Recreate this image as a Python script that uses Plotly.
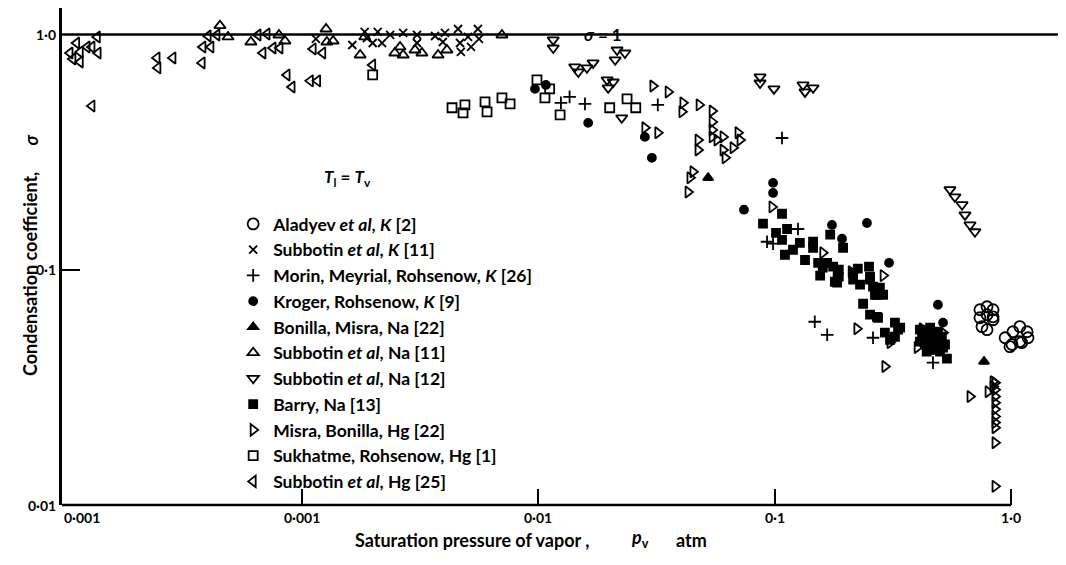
import math
import plotly.graph_objects as go

# ---------------- data (pressure p_v in atm, condensation coefficient sigma) -------------
aladyev_x = [0.739, 0.792, 0.840, 0.739, 0.792, 0.840, 0.754, 0.792, 0.840,
             0.944, 1.019, 1.09, 1.17, 1.01, 1.09, 1.18, 0.99, 1.11]
aladyev_y = [0.0676, 0.0696, 0.0676, 0.0625, 0.0644, 0.0631, 0.0573, 0.0556, 0.0613,
             0.0514, 0.0545, 0.0573, 0.0545, 0.0481, 0.0495, 0.0514, 0.0471, 0.0490]

subK_x = [1.15e-3, 1.64e-3, 1.85e-3, 2.10e-3, 1.89e-3, 2.0e-3, 2.19e-3, 2.37e-3, 2.69e-3,
          3.08e-3, 3.67e-3, 4.04e-3, 4.59e-3, 5.06e-3, 5.57e-3, 5.63e-3, 4.72e-3, 5.21e-3,
          3.08e-3, 3.96e-3, 4.68e-3]
subK_y = [0.957, 0.902, 1.025, 1.025, 0.966, 0.920, 0.920, 0.995, 1.015,
          0.995, 0.985, 1.015, 1.055, 0.976, 1.055, 0.957, 0.843, 0.885,
          0.920, 0.929, 0.920]

morin_x = [1.25e-2, 1.36e-2, 1.58e-2, 3.21e-2, 0.1076, 0.1257, 0.093, 0.0986,
           0.148, 0.167, 0.261, 0.468]
morin_y = [0.512, 0.543, 0.507, 0.502, 0.363, 0.149, 0.1315, 0.129,
           0.0601, 0.0529, 0.0514, 0.0403]

kroger_x = [9.71e-3, 1.08e-2, 1.63e-2, 2.83e-2, 3.03e-2, 0.0986, 0.0986, 0.0743,
            0.175, 0.246, 0.193, 0.305, 0.491, 0.516]
kroger_y = [0.587, 0.610, 0.421, 0.367, 0.299, 0.234, 0.212, 0.180,
            0.155, 0.158, 0.1355, 0.107, 0.0710, 0.0596]

bonilla_x = [0.0524, 0.769]
bonilla_y = [0.246, 0.0407]

subNa11_x = [4.52e-4, 4.89e-4, 6.11e-4, 8.03e-4, 8.51e-4, 1.27e-3, 1.28e-3, 1.36e-3,
             1.77e-3, 1.85e-3, 2.61e-3, 2.69e-3, 2.48e-3, 3.23e-3, 3.02e-3, 3.78e-3,
             4.12e-3, 7.04e-3]
subNa11_y = [1.09, 0.976, 0.929, 0.995, 0.938, 1.055, 0.929, 0.938,
             0.818, 0.976, 0.885, 0.818, 0.834, 0.834, 0.859, 0.818,
             0.859, 0.995]

subNa12_x = [1.16e-2, 1.16e-2, 1.43e-2, 1.61e-2, 1.71e-2, 1.48e-2, 2.16e-2, 2.33e-2,
             2.12e-2, 1.96e-2, 1.98e-2, 2.08e-2, 2.26e-2, 0.0869, 0.0869, 0.0995,
             0.132, 0.1346, 0.1456, 0.552, 0.579, 0.621, 0.639, 0.671, 0.704]
subNa12_y = [0.948, 0.876, 0.728, 0.721, 0.757, 0.693, 0.859, 0.834,
             0.780, 0.641, 0.593, 0.628, 0.442, 0.660, 0.622, 0.587,
             0.610, 0.570, 0.593, 0.219, 0.204, 0.189, 0.171, 0.155, 0.145]

barry_x = [0.1076, 0.0894, 0.113, 0.1015, 0.1076, 0.128, 0.1197, 0.1107, 0.1456, 0.1456,
           0.172, 0.195, 0.1346, 0.153, 0.160, 0.156, 0.177, 0.187, 0.187, 0.184,
           0.225, 0.251, 0.215, 0.230, 0.2535, 0.261, 0.279, 0.288, 0.271, 0.237,
           0.2535, 0.271, 0.323, 0.333, 0.293, 0.323, 0.308, 0.167, 0.185, 0.180,
           0.215, 0.2535, 0.266, 0.274, 0.340,
           0.412, 0.433, 0.455, 0.477, 0.501, 0.421, 0.446, 0.468, 0.491, 0.516,
           0.433, 0.455, 0.477, 0.501, 0.526, 0.455, 0.491, 0.51, 0.412, 0.44, 0.536]
barry_y = [0.173, 0.157, 0.149, 0.1435, 0.134, 0.130, 0.1216, 0.1158, 0.1315, 0.124,
           0.141, 0.124, 0.110, 0.107, 0.102, 0.0944, 0.103, 0.100, 0.0934, 0.0881,
           0.101, 0.103, 0.0907, 0.0864, 0.0907, 0.0847, 0.0839, 0.0783, 0.0783, 0.0717,
           0.0644, 0.0631, 0.0596, 0.0556, 0.0540, 0.0519, 0.0504, 0.107, 0.097, 0.0889,
           0.097, 0.0934, 0.0783, 0.0625, 0.0567,
           0.0556, 0.0540, 0.0529, 0.0514, 0.0504, 0.0514, 0.0504, 0.0490, 0.0481, 0.0467,
           0.0481, 0.0467, 0.0457, 0.0449, 0.0481, 0.0567, 0.0545, 0.0519, 0.0495, 0.0449,
           0.0419]

misra_x = [3.06e-2, 3.55e-2, 4.10e-2, 4.06e-2, 4.80e-2, 5.45e-2, 2.83e-2, 3.21e-2,
           5.45e-2, 5.45e-2, 5.45e-2, 6.06e-2, 5.71e-2, 4.75e-2, 4.75e-2, 7.01e-2,
           7.15e-2, 6.68e-2, 6.06e-2, 6.18e-2, 4.52e-2, 4.39e-2, 4.31e-2, 9.76e-2,
           0.160, 0.288, 0.211, 0.223, 0.308, 0.401, 0.293, 0.421, 0.516,
           0.671, 0.840, 0.840, 0.800, 0.856, 0.856, 0.856, 0.856, 0.856, 0.856,
           0.856, 0.856, 0.856, 0.856]
misra_y = [0.604, 0.570, 0.512, 0.469, 0.502, 0.473, 0.401, 0.382,
           0.425, 0.393, 0.367, 0.367, 0.356, 0.356, 0.323, 0.382,
           0.356, 0.330, 0.323, 0.299, 0.261, 0.246, 0.214, 0.185,
           0.118, 0.0944, 0.098, 0.0561, 0.0490, 0.0467, 0.0388, 0.0561, 0.0540,
           0.0289, 0.0334, 0.0319, 0.0303, 0.0309, 0.0289, 0.0272, 0.0255, 0.0238,
           0.0224, 0.0213, 0.0184, 0.0120, 0.0331]

sukh_x = [2.0e-3, 9.9e-3, 1.12e-2, 1.07e-2, 1.24e-2, 4.91e-3, 4.82e-3, 4.33e-3,
          5.97e-3, 6.09e-3, 7.04e-3, 7.62e-3, 2.01e-2, 2.38e-2, 2.59e-2]
sukh_y = [0.673, 0.641, 0.587, 0.538, 0.455, 0.502, 0.464, 0.488,
          0.517, 0.469, 0.538, 0.507, 0.488, 0.532, 0.488]

subHg_x = [1.37e-4, 1.12e-4, 1.24e-4, 1.30e-4, 1.16e-4, 1.05e-4, 1.38e-4, 1.08e-4,
           1.16e-4, 1.30e-4, 2.45e-4, 2.47e-4, 2.86e-4, 3.8e-4, 4.03e-4, 4.39e-4,
           3.83e-4, 4.14e-4, 6.55e-4, 7.15e-4, 6.87e-4, 7.58e-4, 8.11e-4, 8.69e-4,
           9.12e-4, 1.09e-3, 1.17e-3, 1.12e-3, 1.23e-3, 2.0e-3]
subHg_y = [0.976, 0.920, 0.885, 0.885, 0.843, 0.834, 0.834, 0.787,
           0.764, 0.497, 0.795, 0.721, 0.795, 0.757, 0.985, 0.995,
           0.885, 0.885, 0.995, 1.005, 0.834, 0.876, 0.876, 0.673,
           0.598, 0.635, 0.635, 0.868, 0.834, 0.742]

series = [
    ("Aladyev <i>et al</i>, <i>K</i> [2]", aladyev_x, aladyev_y, "circle-open", 11),
    ("Subbotin <i>et al</i>, <i>K</i> [11]", subK_x, subK_y, "x-thin-open", 8),
    ("Morin, Meyrial, Rohsenow, <i>K</i> [26]", morin_x, morin_y, "cross-thin-open", 9),
    ("Kroger, Rohsenow, <i>K</i> [9]", kroger_x, kroger_y, "circle", 8),
    ("Bonilla, Misra, Na [22]", bonilla_x, bonilla_y, "triangle-up", 9),
    ("Subbotin <i>et al</i>, Na [11]", subNa11_x, subNa11_y, "triangle-up-open", 10),
    ("Subbotin <i>et al</i>, Na [12]", subNa12_x, subNa12_y, "triangle-down-open", 10),
    ("Barry, Na [13]", barry_x, barry_y, "square", 8),
    ("Misra, Bonilla, Hg [22]", misra_x, misra_y, "triangle-right-open", 10),
    ("Sukhatme, Rohsenow, Hg [1]", sukh_x, sukh_y, "square-open", 9),
    ("Subbotin <i>et al</i>, Hg [25]", subHg_x, subHg_y, "triangle-left-open", 10),
]

x_ticks = [1e-4, 1e-3, 1e-2, 1e-1, 1.0]
x_tick_text = ["0·001", "0·001", "0·01", "0·1", "1·0"]
y_ticks = [1.0, 0.1, 0.01]
y_tick_text = ["1·0", "0·1", "0·01"]

FONT = "Lato"
fig = go.Figure()
for name, xs, ys, sym, sz in series:
    fig.add_trace(go.Scatter(
        x=xs, y=ys, mode="markers", name=name,
        marker=dict(symbol=sym, size=sz, color="black",
                    line=dict(color="black", width=1.8)),
    ))

# the page body has an 8px margin, so the figure is 8px smaller and margins shifted
fig.update_layout(
    width=1058, height=557,
    margin=dict(l=54, r=3, t=0, b=60),
    paper_bgcolor="white", plot_bgcolor="white",
    font=dict(family=FONT, color="black", size=15, weight="bold"),
    showlegend=True,
    legend=dict(x=0.171, y=0.6016, xanchor="left", yanchor="top",
                bgcolor="rgba(0,0,0,0)", font=dict(size=17.5, family=FONT, weight="bold"),
                itemwidth=30, tracegroupgap=0),
    xaxis=dict(type="log", range=[-4.0127, 0.2199], showgrid=False, zeroline=False,
               showline=False, ticks="inside", ticklen=16, tickwidth=2, tickcolor="black",
               tickvals=x_ticks[1:], showticklabels=False),
    yaxis=dict(type="log", range=[-2.0, 0.1125], showgrid=False, zeroline=False,
               showline=True, linecolor="black", linewidth=2.5,
               ticks="inside", ticklen=18, tickwidth=2, tickcolor="black",
               tickvals=[0.1], showticklabels=False),
)

# axis line and sigma = 1 line
fig.add_shape(type="line", xref="x", yref="paper", x0=x_ticks[0] * 0.97, x1=1.0, y0=0, y1=0,
              line=dict(color="black", width=2.5))
fig.add_shape(type="line", xref="paper", yref="y", x0=0, x1=1, y0=1.0, y1=1.0,
              line=dict(color="black", width=2.5))

# tick labels (annotation positions on log axes are given as log10 values)
for i, (v, t) in enumerate(zip(x_ticks, x_tick_text)):
    fig.add_annotation(x=math.log10(v), y=0, xref="x", yref="paper", text=t, showarrow=False,
                       xanchor="left" if i == 0 else "center", yanchor="top", yshift=-2,
                       xshift=-3 if i == 0 else 0, font=dict(size=14))
for v, t in zip(y_ticks, y_tick_text):
    fig.add_annotation(x=0, y=math.log10(v), xref="paper", yref="y", text=t, showarrow=False,
                       xanchor="right", yanchor="middle", xshift=-4, font=dict(size=14))


def px_x(px):
    return (px - 62) / 1001


def px_y(py):
    return 1 - (py - 8) / 497


fig.add_annotation(x=px_x(17), y=px_y(274), xref="paper", yref="paper",
                   text="Condensation coefficient,", showarrow=False, textangle=-90,
                   font=dict(size=18))
fig.add_annotation(x=px_x(17), y=px_y(133), xref="paper", yref="paper",
                   text="<i>σ</i>", showarrow=False, textangle=-90, font=dict(size=18))
fig.add_annotation(x=px_x(353), y=px_y(553), xref="paper", yref="paper", xanchor="left",
                   text="Saturation pressure of vapor ,", showarrow=False, font=dict(size=18))
fig.add_annotation(x=px_x(640), y=px_y(553), xref="paper", yref="paper",
                   text="<i>p</i><sub>v</sub>", showarrow=False, font=dict(size=18))
fig.add_annotation(x=px_x(691), y=px_y(553), xref="paper", yref="paper",
                   text="atm", showarrow=False, font=dict(size=18))
fig.add_annotation(x=px_x(603), y=px_y(22), xref="paper", yref="paper",
                   text="<i>σ</i> = 1", showarrow=False, font=dict(size=17))
fig.add_annotation(x=px_x(322), y=px_y(178), xref="paper", yref="paper",
                   text="<i>T</i><sub>l</sub> = <i>T</i><sub>v</sub>", showarrow=False,
                   font=dict(size=17))

fig.write_html("out.html")
